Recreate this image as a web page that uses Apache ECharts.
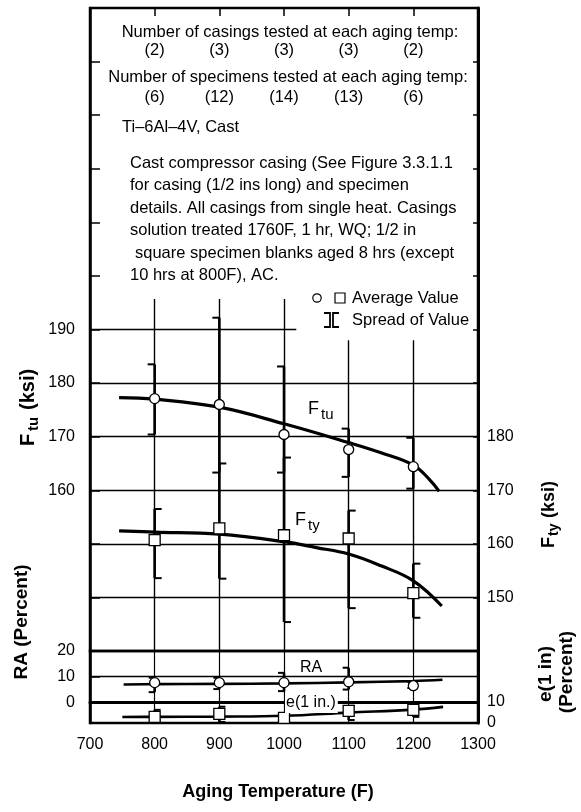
<!DOCTYPE html>
<html>
<head>
<meta charset="utf-8">
<script src="https://cdn.jsdelivr.net/npm/echarts@6/dist/echarts.min.js"></script>
<style>
html,body{margin:0;padding:0;background:#fff;}
#chart{width:581px;height:812px;}
</style>
</head>
<body>
<div id="chart"></div>
<script>
// ---------------- data ----------------
const temps = [800, 900, 1000, 1100, 1200];
const casings = [2, 3, 3, 3, 2];
const specimens = [6, 12, 14, 13, 6];

const ftuAvg  = [177.1, 176.0, 170.4, 167.6, 164.4];
const ftuLow  = [170.4, 163.3, 163.3, 162.5, 160.3];
const ftuHigh = [183.5, 192.2, 183.1, 171.5, 169.8];

const ftyAvg  = [160.7, 162.9, 161.6, 161.0, 150.8];
const ftyLow  = [153.6, 153.5, 145.4, 148.0, 146.2];
const ftyHigh = [166.5, 175.0, 176.1, 166.2, 156.3];

const raAvg  = [7.7, 7.7, 7.7, 8.0, 6.5];
const raLow  = [4.0, 5.2, 4.4, 5.0, 5.6];
const raHigh = [9.6, 9.6, 11.5, 13.5, 8.0];

const eAvg  = [2.9, 4.3, 2.4, 5.7, 6.2];
const eLow  = [0.5, 0.5, 0.5, 1.4, 2.9];
const eHigh = [6.2, 7.7, 4.8, 8.1, 7.7];

const ftuCurveT = [745, 800, 900, 1000, 1100, 1150, 1200, 1225, 1240];
const ftuCurveV = [177.3, 177.0, 175.5, 172.4, 168.9, 167.0, 164.7, 162.0, 159.8];
const ftyCurveT = [745, 800, 900, 1000, 1050, 1100, 1150, 1200, 1244];
const ftyCurveV = [162.4, 162.2, 161.8, 160.4, 159.3, 158.1, 155.9, 153.1, 148.4];
const raCurveT = [752, 800, 900, 1000, 1100, 1200, 1245];
const raCurveV = [7.0, 7.1, 7.2, 7.4, 7.8, 8.3, 8.8];
const eCurveT = [750, 800, 900, 1000, 1100, 1200, 1246];
const eCurveV = [2.8, 2.9, 3.0, 3.4, 4.9, 6.3, 7.6];

const xTicks = [700, 800, 900, 1000, 1100, 1200, 1300];
const ftuTicks = [160, 170, 180, 190];
const ftyTicks = [150, 160, 170, 180];
const raTicks = [0, 10, 20];
const eTicks = [0, 10];

// -------------- helpers --------------
const LS = '"Liberation Sans", Arial, sans-serif';
const zip = (a, b) => a.map((v, i) => [v, b[i]]);
const zip3 = (a, b, c) => a.map((v, i) => [v, b[i], c[i]]);

function spreadRender(side, tick) {
  return function (params, api) {
    const x = api.value(0), lo = api.value(1), hi = api.value(2);
    const p1 = api.coord([x, hi]);
    const p2 = api.coord([x, lo]);
    const dx = side * tick;
    return {
      type: 'group',
      children: [
        { type: 'line', shape: { x1: p1[0], y1: p1[1], x2: p2[0], y2: p2[1] }, style: { stroke: '#000', lineWidth: 2.6 } },
        { type: 'line', shape: { x1: p1[0], y1: p1[1], x2: p1[0] + dx, y2: p1[1] }, style: { stroke: '#000', lineWidth: 2 } },
        { type: 'line', shape: { x1: p2[0], y1: p2[1], x2: p2[0] + dx, y2: p2[1] }, style: { stroke: '#000', lineWidth: 2 } }
      ]
    };
  };
}

const chart = echarts.init(document.getElementById('chart'), null, { renderer: 'canvas' });

const gl = { color: '#000', width: 1.4, type: 'solid' };
function hline(v, x1, x2) { return [{ coord: [x1, v] }, { coord: [x2, v] }]; }
const tickFont = { color: '#000', fontFamily: LS, fontSize: 16, formatter: v => String(v) };
function txt(x, y, s, size, align, extra) {
  return Object.assign({ type: 'text', x: x, y: y, style: { text: s, fill: '#000', font: size + 'px ' + LS, textAlign: align || 'left', textVerticalAlign: 'middle' } }, extra || {});
}
const markerStyle = { color: '#fff', borderColor: '#000', borderWidth: 1.3, opacity: 1 };

const option = {
  animation: false,
  backgroundColor: '#fff',
  grid: [
    { left: 90, right: 103, top: 8, height: 643, show: true, borderColor: '#000', borderWidth: 2.5, backgroundColor: 'transparent' },
    { left: 90, right: 103, top: 651, height: 72, show: true, borderColor: '#000', borderWidth: 2.5, backgroundColor: 'transparent' }
  ],
  xAxis: [
    { gridIndex: 0, type: 'value', min: 700, max: 1300, interval: 100, position: 'top',
      axisLine: { show: true, lineStyle: { color: '#000', width: 2 } },
      axisTick: { show: true, inside: true, length: 8, customValues: temps, lineStyle: { color: '#000', width: 1.5 } },
      axisLabel: { show: false }, splitLine: { show: false } },
    { gridIndex: 1, type: 'value', min: 700, max: 1300, interval: 100, position: 'bottom',
      axisLine: { show: true, lineStyle: { color: '#000', width: 3 } },
      axisTick: { show: false },
      axisLabel: Object.assign({ show: true, customValues: xTicks, margin: 14 }, tickFont),
      splitLine: { show: true, lineStyle: { color: '#000', width: 1.2 } } }
  ],
  yAxis: [
    { gridIndex: 0, type: 'value', min: 130, max: 250, position: 'left',
      axisLine: { show: true, lineStyle: { color: '#000', width: 2.5 } },
      axisTick: { show: true, inside: true, length: 10, customValues: [140,150,160,170,180,190,200,210,220,230,240], lineStyle: { color: '#000', width: 1.5 } },
      axisLabel: Object.assign({ show: true, customValues: ftuTicks, margin: 15 }, tickFont),
      splitLine: { show: false } },
    { gridIndex: 0, type: 'value', min: 140, max: 260, position: 'right',
      axisLine: { show: true, lineStyle: { color: '#000', width: 3 } },
      axisTick: { show: true, inside: true, length: 5, customValues: [150,160,170,180,190,200,210,220,230,240,250], lineStyle: { color: '#000', width: 1.5 } },
      axisLabel: Object.assign({ show: true, customValues: ftyTicks, margin: 9 }, tickFont),
      splitLine: { show: false } },
    { gridIndex: 1, type: 'value', min: -8, max: 20, position: 'left',
      axisLine: { show: true, lineStyle: { color: '#000', width: 2.5 } },
      axisTick: { show: true, inside: true, length: 10, customValues: raTicks, lineStyle: { color: '#000', width: 1.5 } },
      axisLabel: Object.assign({ show: true, customValues: raTicks, margin: 15 }, tickFont),
      splitLine: { show: false } },
    { gridIndex: 1, type: 'value', min: 0, max: 34, position: 'right',
      axisLine: { show: true, lineStyle: { color: '#000', width: 3 } },
      axisTick: { show: true, inside: true, length: 5, customValues: [10], lineStyle: { color: '#000', width: 1.5 } },
      axisLabel: Object.assign({ show: true, customValues: eTicks, margin: 9 }, tickFont),
      splitLine: { show: false } }
  ],
  series: [
    // grid lines (upper)
    { type: 'line', xAxisIndex: 0, yAxisIndex: 0, data: [], z: 1, silent: true,
      markLine: { silent: true, symbol: ['none', 'none'], label: { show: false }, lineStyle: gl, animation: false,
        data: [
          hline(190, 700, 1019), hline(180, 700, 1300), hline(170, 700, 1300), hline(160, 700, 1300),
          hline(150, 700, 1300), hline(140, 700, 1300),
          [{ coord: [800, 195.7] }, { coord: [800, 130] }],
          [{ coord: [900, 195.7] }, { coord: [900, 130] }],
          [{ coord: [1000, 195.7] }, { coord: [1000, 130] }],
          [{ coord: [1100, 188.0] }, { coord: [1100, 130] }],
          [{ coord: [1200, 188.0] }, { coord: [1200, 130] }]
        ] } },
    // grid lines (lower)
    { type: 'line', xAxisIndex: 1, yAxisIndex: 2, data: [], z: 1, silent: true,
      markLine: { silent: true, symbol: ['none', 'none'], label: { show: false }, lineStyle: gl, animation: false,
        data: [ hline(10, 700, 1300), hline(0, 700, 1300) ] } },

    // spreads
    { type: 'custom', xAxisIndex: 0, yAxisIndex: 0, z: 3, renderItem: spreadRender(-1, 7), data: zip3(temps, ftuLow, ftuHigh), encode: { x: 0, y: [1, 2] } },
    { type: 'custom', xAxisIndex: 0, yAxisIndex: 1, z: 3, renderItem: spreadRender(1, 7), data: zip3(temps, ftyLow, ftyHigh), encode: { x: 0, y: [1, 2] } },
    { type: 'custom', xAxisIndex: 1, yAxisIndex: 2, z: 3, renderItem: spreadRender(-1, 6), data: zip3(temps, raLow, raHigh), encode: { x: 0, y: [1, 2] } },
    { type: 'custom', xAxisIndex: 1, yAxisIndex: 3, z: 3, renderItem: spreadRender(1, 6), data: zip3(temps, eLow, eHigh), encode: { x: 0, y: [1, 2] } },

    // fitted curves
    { type: 'line', xAxisIndex: 0, yAxisIndex: 0, z: 4, smooth: 0.4, showSymbol: false, symbol: 'none', data: zip(ftuCurveT, ftuCurveV), lineStyle: { color: '#000', width: 3.2 } },
    { type: 'line', xAxisIndex: 0, yAxisIndex: 1, z: 4, smooth: 0.4, showSymbol: false, symbol: 'none', data: zip(ftyCurveT, ftyCurveV), lineStyle: { color: '#000', width: 3.2 } },
    { type: 'line', xAxisIndex: 1, yAxisIndex: 2, z: 4, smooth: 0.4, showSymbol: false, symbol: 'none', data: zip(raCurveT, raCurveV), lineStyle: { color: '#000', width: 2.6 } },
    { type: 'line', xAxisIndex: 1, yAxisIndex: 3, z: 4, smooth: 0.4, showSymbol: false, symbol: 'none', data: zip(eCurveT, eCurveV), lineStyle: { color: '#000', width: 2.6 } },

    // averages
    { type: 'scatter', xAxisIndex: 0, yAxisIndex: 0, z: 5, symbol: 'circle', symbolSize: 10, data: zip(temps, ftuAvg), itemStyle: markerStyle },
    { type: 'scatter', xAxisIndex: 0, yAxisIndex: 1, z: 5, symbol: 'rect', symbolSize: 11, data: zip(temps, ftyAvg), itemStyle: markerStyle },
    { type: 'scatter', xAxisIndex: 1, yAxisIndex: 2, z: 5, symbol: 'circle', symbolSize: 10, data: zip(temps, raAvg), itemStyle: markerStyle },
    { type: 'scatter', xAxisIndex: 1, yAxisIndex: 3, z: 5, symbol: 'rect', symbolSize: 11, data: zip(temps, eAvg), itemStyle: markerStyle },

    // counts rows (aligned with aging temps)
    { type: 'scatter', xAxisIndex: 0, yAxisIndex: 0, z: 6, symbolSize: 0, itemStyle: { color: '#000', opacity: 1 },
      data: temps.map((t, i) => ({ value: [t, 242.1], name: '(' + casings[i] + ')' })),
      label: { show: true, position: 'inside', formatter: p => p.name, color: '#000', opacity: 1, textBorderWidth: 0, fontFamily: LS, fontSize: 16.5 } },
    { type: 'scatter', xAxisIndex: 0, yAxisIndex: 0, z: 6, symbolSize: 0, itemStyle: { color: '#000', opacity: 1 },
      data: temps.map((t, i) => ({ value: [t, 233.3], name: '(' + specimens[i] + ')' })),
      label: { show: true, position: 'inside', formatter: p => p.name, color: '#000', opacity: 1, textBorderWidth: 0, fontFamily: LS, fontSize: 16.5 } }
  ],
  graphic: [
    txt(290, 32, 'Number of casings tested at each aging temp:', 16.5, 'center'),
    txt(288, 77, 'Number of specimens tested at each aging temp:', 16.5, 'center'),
    txt(122, 127, 'Ti\u20136Al\u20134V, Cast', 16.5),
    txt(130, 163, 'Cast compressor casing (See Figure 3.3.1.1', 16.5),
    txt(130, 185.5, 'for casing (1/2 ins long) and specimen', 16.5),
    txt(130, 208, 'details. All casings from single heat. Casings', 16.5),
    txt(130, 230.5, 'solution treated 1760F, 1 hr, WQ; 1/2 in', 16.5),
    txt(135, 253, 'square specimen blanks aged 8 hrs (except', 16.5),
    txt(130, 275.5, '10 hrs at 800F), AC.', 16.5),

    // legend
    { type: 'circle', shape: { cx: 317, cy: 298, r: 4.2 }, style: { fill: '#fff', stroke: '#000', lineWidth: 1.2 } },
    { type: 'rect', shape: { x: 335, y: 293, width: 10, height: 10 }, style: { fill: '#fff', stroke: '#000', lineWidth: 1.2 } },
    txt(352, 298, 'Average Value', 16.5),
    { type: 'polyline', shape: { points: [[324, 313], [330, 313], [330, 327], [324, 327]] }, style: { fill: 'none', stroke: '#000', lineWidth: 1.8 } },
    { type: 'polyline', shape: { points: [[339, 313], [333, 313], [333, 327], [339, 327]] }, style: { fill: 'none', stroke: '#000', lineWidth: 1.8 } },
    txt(352, 320, 'Spread of Value', 16.5),

    // curve labels
    txt(308, 409, 'F', 18, 'left', { z: 10 }),
    txt(321, 415, 'tu', 15, 'left', { z: 10 }),
    txt(295, 520, 'F', 18, 'left', { z: 10 }),
    txt(308, 526, 'ty', 15, 'left', { z: 10 }),
    txt(300, 668, 'RA', 16, 'left', { z: 10 }),
    { type: 'text', x: 285, y: 703, z: 10, style: { text: 'e(1 in.)', fill: '#000', font: '16px ' + LS, textAlign: 'left', textVerticalAlign: 'middle', backgroundColor: '#fff', padding: [2, 2, 2, 1] } },

    // axis titles
    { type: 'group', x: 28, y: 446, rotation: Math.PI / 2, children: [
      { type: 'text', x: 0, y: 0, style: { text: 'F', fill: '#000', font: 'bold 20px ' + LS, textAlign: 'left', textVerticalAlign: 'middle' } },
      { type: 'text', x: 15, y: 6, style: { text: 'tu', fill: '#000', font: 'bold 15px ' + LS, textAlign: 'left', textVerticalAlign: 'middle' } },
      { type: 'text', x: 36, y: 0, style: { text: '(ksi)', fill: '#000', font: 'bold 20px ' + LS, textAlign: 'left', textVerticalAlign: 'middle' } }
    ] },
    { type: 'text', x: 22, y: 622, rotation: Math.PI / 2, style: { text: 'RA (Percent)', fill: '#000', font: 'bold 19px ' + LS, textAlign: 'center', textVerticalAlign: 'middle' } },
    { type: 'group', x: 549, y: 548, rotation: Math.PI / 2, children: [
      { type: 'text', x: 0, y: 0, style: { text: 'F', fill: '#000', font: 'bold 18px ' + LS, textAlign: 'left', textVerticalAlign: 'middle' } },
      { type: 'text', x: 12, y: 5, style: { text: 'ty', fill: '#000', font: 'bold 14px ' + LS, textAlign: 'left', textVerticalAlign: 'middle' } },
      { type: 'text', x: 30, y: 0, style: { text: '(ksi)', fill: '#000', font: 'bold 18px ' + LS, textAlign: 'left', textVerticalAlign: 'middle' } }
    ] },
    { type: 'text', x: 546, y: 674, rotation: Math.PI / 2, style: { text: 'e(1 in)', fill: '#000', font: 'bold 19px ' + LS, textAlign: 'center', textVerticalAlign: 'middle' } },
    { type: 'text', x: 567, y: 672, rotation: Math.PI / 2, style: { text: '(Percent)', fill: '#000', font: 'bold 19px ' + LS, textAlign: 'center', textVerticalAlign: 'middle' } },
    { type: 'text', x: 278, y: 792, style: { text: 'Aging Temperature (F)', fill: '#000', font: 'bold 18px ' + LS, textAlign: 'center', textVerticalAlign: 'middle' } }
  ]
};

chart.setOption(option);
</script>
</body>
</html>
